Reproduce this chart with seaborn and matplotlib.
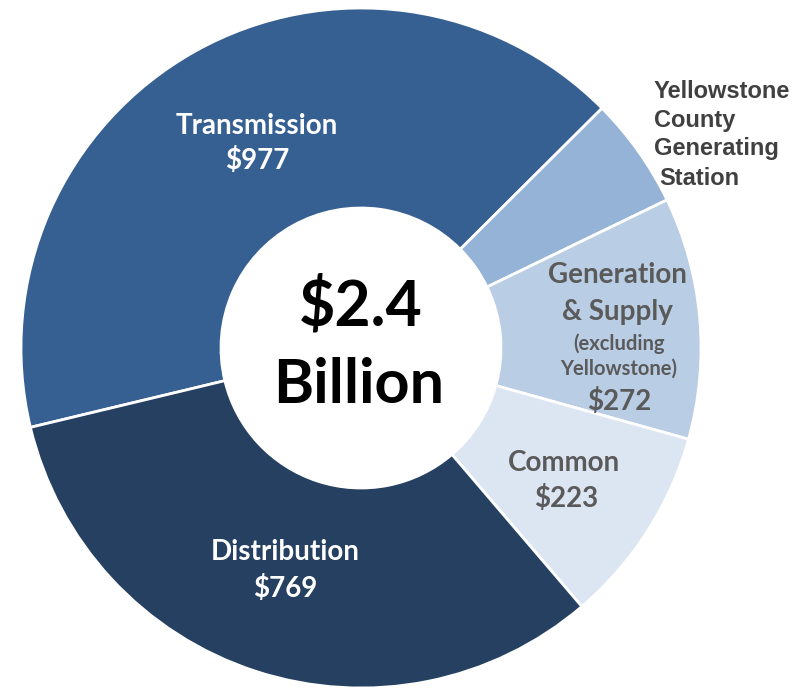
import matplotlib
matplotlib.use("Agg")
import matplotlib.pyplot as plt
import seaborn as sns

# segments in clockwise order, starting at the left edge of Transmission
segments = ["Transmission", "Yellowstone County Generating Station",
            "Generation & Supply", "Common", "Distribution"]
values = [977, 125, 272, 223, 769]  # $ millions (Yellowstone estimated from angle)
colors = ["#376092", "#95B3D7", "#B9CDE5", "#DCE6F2", "#254061"]

total_label = ["$2.4", "Billion"]

sns.set_theme(style="white")
plt.rcParams["font.family"] = ["Lato", "DejaVu Sans"]

W, H = 803, 689
fig = plt.figure(figsize=(W / 100, H / 100), dpi=100)
fig.patch.set_facecolor("white")

cx, cy, R = 361, 348, 340
ax = fig.add_axes([(cx - R) / W, (H - cy - R) / H, 2 * R / W, 2 * R / H])
ax.pie(values, colors=colors, startangle=193.5, counterclock=False,
       radius=1, wedgeprops=dict(width=1 - 140 / R, edgecolor="white", linewidth=2))
ax.set_xlim(-1, 1)
ax.set_ylim(-1, 1)
ax.set_aspect("equal")
ax.axis("off")


def put(px, py, s, **kw):
    fig.text(px / W, 1 - py / H, s, **kw)


white = dict(color="white", fontweight="bold", ha="center", va="center")
gray = dict(color="#5a5a5a", fontweight="bold", ha="center", va="center")

put(257, 126, "Transmission", fontsize=20, **white)
put(257, 161, "$977", fontsize=20, **white)
put(285, 552, "Distribution", fontsize=20, **white)
put(285, 588, "$769", fontsize=20, **white)

put(617, 275, "Generation", fontsize=20, **gray)
put(617, 312, "& Supply", fontsize=20, **gray)
put(619, 344, "(excluding", fontsize=14.5, **gray)
put(619, 369, "Yellowstone)", fontsize=14.5, **gray)
put(619, 401, "$272", fontsize=20, **gray)

put(564, 463, "Common", fontsize=20, **gray)
put(566, 499, "$223", fontsize=20, **gray)

ys = dict(color="#404040", fontweight="bold", ha="left", va="center",
          fontsize=17, family=["Liberation Sans", "DejaVu Sans"])
put(654, 91, "Yellowstone", **ys)
put(654, 120, "County", **ys)
put(654, 149, "Generating", **ys)
put(659, 178, "Station", **ys)

put(361, 307, total_label[0], fontsize=45, color="black", fontweight="bold",
    ha="center", va="center")
put(359, 385, total_label[1], fontsize=44, color="black", fontweight="bold",
    ha="center", va="center")

fig.savefig("out.png", dpi=100, facecolor="white")
